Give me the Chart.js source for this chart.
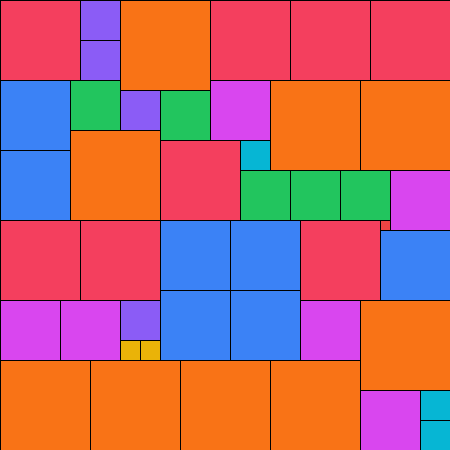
<!DOCTYPE html>
<html>
<head>
<meta charset="utf-8">
<script src="https://cdn.jsdelivr.net/npm/chart.js@4"></script>
<style>
    html, body { margin: 0; padding: 0; background: #ffffff; }
    #wrap { width: 450px; height: 450px; }
</style>
</head>
<body>
<div id="wrap"><canvas id="chart"></canvas></div>
<script>
// Квадрати: ліва/верхня координата та сторона (в одиницях сітки 0..45)
const groups = ['red', 'red', 'red', 'red', 'purple', 'purple', 'orange', 'blue', 'blue', 'green', 'purple',
    'green', 'magenta', 'orange', 'orange', 'orange', 'red', 'cyan', 'green', 'green', 'green', 'magenta',
    'red2', 'red', 'red', 'blue', 'blue', 'red', 'blue', 'blue', 'blue', 'magenta', 'magenta', 'purple',
    'yellow', 'yellow', 'magenta', 'orange', 'orange', 'orange', 'orange', 'orange', 'magenta', 'cyan', 'cyan'];
const xs = [0, 21, 29, 37, 8, 8, 12, 0, 0, 7, 12, 16, 21, 27, 36, 7, 16, 24, 24, 29, 34, 39,
    38, 0, 8, 16, 23, 30, 38, 16, 23, 0, 6, 12, 12, 14, 30, 36, 0, 9, 18, 27, 36, 42, 42];
const ys = [0, 0, 0, 0, 0, 4, 0, 8, 15, 8, 9, 9, 8, 8, 8, 13, 14, 14, 17, 17, 17, 17,
    22, 22, 22, 22, 22, 22, 23, 29, 29, 30, 30, 30, 34, 34, 30, 30, 36, 36, 36, 36, 39, 39, 42];
const sides = [8, 8, 8, 8, 4, 4, 9, 7, 7, 5, 4, 5, 6, 9, 9, 9, 8, 3, 5, 5, 5, 6,
    1, 8, 8, 7, 7, 8, 7, 7, 7, 6, 6, 4, 2, 2, 6, 9, 9, 9, 9, 9, 6, 3, 3];

const palette = {
    red: '#f43f5e', red2: '#ef4444', purple: '#8b5cf6', orange: '#f97316', blue: '#3b82f6',
    green: '#22c55e', magenta: '#d946ef', cyan: '#06b6d4', yellow: '#eab308'
};

const squaresPlugin = {
    id: 'squares',
    afterDatasetsDraw(chart) {
        const ctx = chart.ctx;
        const sx = chart.scales.x;
        const sy = chart.scales.y;
        ctx.save();
        for (let i = 0; i < sides.length; i++) {
            const left = Math.round(sx.getPixelForValue(xs[i]));
            const right = Math.round(sx.getPixelForValue(xs[i] + sides[i]));
            const top = Math.round(sy.getPixelForValue(ys[i]));
            const bottom = Math.round(sy.getPixelForValue(ys[i] + sides[i]));
            ctx.fillStyle = palette[groups[i]];
            ctx.fillRect(left, top, right - left, bottom - top);
            ctx.strokeStyle = '#000000';
            ctx.lineWidth = 1;
            ctx.strokeRect(left + 0.5, top + 0.5, right - left, bottom - top);
        }
        ctx.restore();
    }
};

const points = sides.map((s, i) => ({ x: xs[i] + s / 2, y: ys[i] + s / 2 }));

new Chart(document.getElementById('chart').getContext('2d'), {
    type: 'scatter',
    data: {
        datasets: [{ data: points, pointRadius: 0, pointHoverRadius: 0 }]
    },
    options: {
        responsive: true,
        maintainAspectRatio: false,
        animation: false,
        layout: { padding: 0 },
        plugins: { legend: { display: false }, tooltip: { enabled: false } },
        scales: {
            x: { type: 'linear', min: 0, max: 45, display: false },
            y: { type: 'linear', min: 0, max: 45, reverse: true, display: false }
        }
    },
    plugins: [squaresPlugin]
});
</script>
</body>
</html>
